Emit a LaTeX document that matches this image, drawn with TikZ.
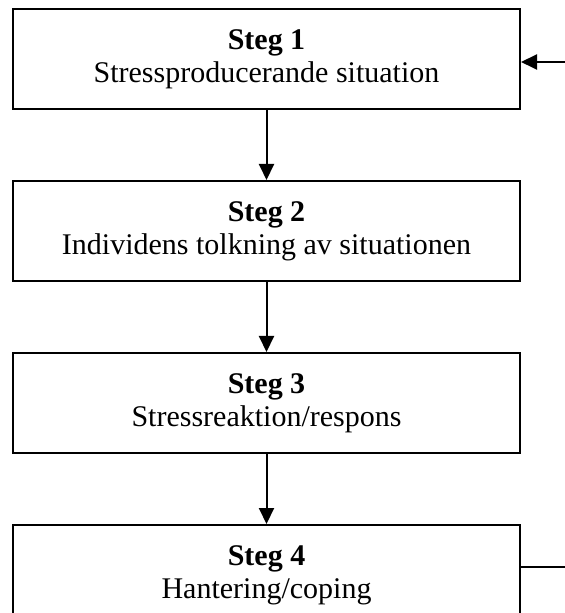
\documentclass[tikz,border=0pt]{standalone}
\usepackage{fontspec}
\setmainfont{Liberation Serif}
\usepackage{tikz}
\usetikzlibrary{arrows.meta,positioning}

\begin{document}
\begin{tikzpicture}[
  node distance=35pt,
  box/.style={draw, line width=1pt, align=center, inner sep=2pt,
    minimum width=253.5pt, minimum height=50pt,
    font=\fontsize{15}{16.5}\selectfont},
  arrow/.style={-{Triangle[length=8pt,width=7.5pt]}, line width=1pt}
]
\useasboundingbox (0,0) rectangle (282.5pt,-306.5pt);
\node[box] (steg1) at (133.25pt,-29.5pt) {\textbf{Steg 1}\\Stressproducerande situation};
\node[box, below=of steg1] (steg2) {\textbf{Steg 2}\\Individens tolkning av situationen};
\node[box, below=of steg2] (steg3) {\textbf{Steg 3}\\Stressreaktion/respons};
\node[box, below=of steg3] (steg4) {\textbf{Steg 4}\\Hantering/coping};
\coordinate (back1) at (282.5pt,-31pt);
\coordinate (back4) at (282.5pt,-283.5pt);
\draw[arrow] (steg1) -- (steg2);
\draw[arrow] (steg2) -- (steg3);
\draw[arrow] (steg3) -- (steg4);
\draw[arrow] (back1) -- (back1 -| steg1.east);
\draw[line width=1pt] (back4 -| steg4.east) -- (back4);
\end{tikzpicture}
\end{document}
